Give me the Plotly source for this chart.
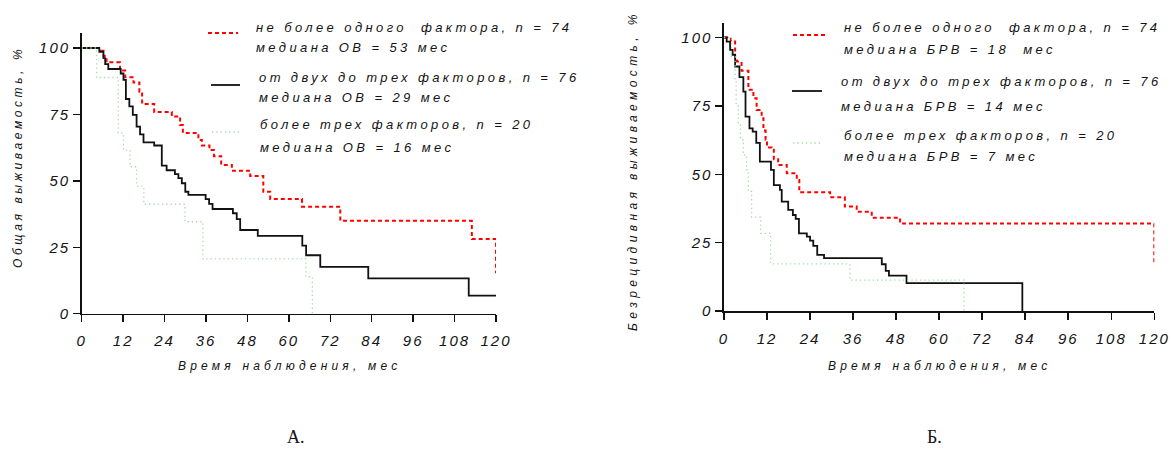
import plotly.graph_objects as go

# ---------------- DATA ----------------
# Panel A: overall survival (ОВ)
os_t_low = [0, 5.3, 6.3, 7.2, 11.1, 12.6, 15.0, 16.7, 17.5, 21.0, 26.1, 28.5, 29.3, 33.8, 34.8, 37.0, 38.3, 40.4,
            43.5, 48.8, 52.6, 54.6, 63.8, 74.9, 113.0, 120]
os_s_low = [100, 99, 97, 94.6, 91.5, 89, 87, 83.5, 78.9, 75.9, 74.2, 71, 68, 65.4, 63.3, 61.6, 59.3, 56,
            53.8, 51.8, 45.9, 43.2, 40.3, 35.0, 28.1, 15.2]

os_t_mid = [0, 5.1, 6.3, 6.8, 7.7, 11.3, 12.1, 12.8, 13.8, 14.8, 15.9, 16.9, 17.9, 21.0, 23.2, 24.6, 27.0, 28.0,
            29.0, 30.0, 30.9, 35.9, 36.9, 37.9, 43.8, 44.9, 45.9, 51.0, 63.9, 65.0, 69.1, 83.0, 112.1, 120]
os_s_mid = [100, 98.6, 96.2, 93.9, 92.1, 90.4, 88, 80.8, 78, 74.8, 70.4, 67.5, 64.5, 63.3, 55.7, 54.0, 52.5, 51,
            49.1, 45.9, 44.7, 43.1, 41.3, 39.4, 37.8, 35.6, 31.5, 29.3, 25.6, 22.0, 17.6, 13.3, 6.8, 6.8]

os_t_high = [0, 4.3, 10.6, 12.1, 14.0, 15.9, 18.0, 29.9, 35.1, 64.9, 66.8]
os_s_high = [100, 88.9, 68.0, 61.6, 55.3, 48.0, 41.2, 34.6, 20.6, 13.9, 0]

# Panel B: disease-free survival (БРВ)
dfs_t_low = [0, 1.9, 3.1, 3.6, 4.9, 6.8, 8.2, 9.1, 10.5, 11.0, 11.6, 12.0, 13.3, 13.9, 15.1, 17.5, 20.3, 21.0,
             29.6, 33.7, 37.0, 41.2, 49.1, 120]
dfs_s_low = [100, 98.5, 92.5, 91.2, 87.8, 80.9, 77.8, 73.5, 70.5, 66.0, 62.6, 59.8, 59.0, 55.5, 53.4, 50.4, 47.9, 43.4,
             41.6, 38.2, 36.3, 34.1, 32.0, 17.5]

dfs_t_mid = [0, 0.75, 1.7, 2.4, 3.1, 4.3, 5.4, 6.0, 7.1, 8.0, 9.0, 10.0, 13.1, 13.9, 15.6, 16.1, 17.9, 19.2, 20.0,
             20.9, 23.1, 24.0, 24.9, 26.0, 27.9, 44.0, 45.1, 46.0, 50.9, 83.2]
dfs_s_mid = [100, 98.5, 95.5, 93.7, 89.4, 85.5, 80.2, 71.1, 66.8, 65.6, 61.5, 54.6, 51.6, 46.0, 44.3, 40.0, 37.0, 35.1,
             33.7, 28.4, 27.2, 25.7, 23.8, 20.5, 19.3, 17.1, 14.7, 12.9, 10.2, 0]

dfs_t_high = [0, 2.1, 3.1, 3.4, 4.0, 4.6, 5.4, 6.3, 6.8, 7.7, 10.2, 13.0, 35.1, 66.9]
dfs_s_high = [100, 93, 84.5, 75, 68, 62.6, 57, 51.6, 43.7, 34.3, 28.4, 17.2, 11.3, 0]

x_ticks = [0, 12, 24, 36, 48, 60, 72, 84, 96, 108, 120]
y_ticks = [0, 25, 50, 75, 100]

legend_A = [["не более одного\u00a0 фактора, n = 74", "медиана ОВ = 53 мес"],
            ["от двух до трех факторов, n = 76", "медиана ОВ = 29 мес"],
            ["более трех факторов, n = 20", "медиана ОВ = 16 мес"]]
legend_B = [["не более одного\u00a0 фактора, n = 74", "медиана БРВ = 18\u00a0 мес"],
            ["от двух до трех факторов, n = 76", "медиана БРВ = 14 мес"],
            ["более трех факторов, n = 20", "медиана БРВ = 7 мес"]]

# ---------------- STYLE ----------------
W, H = 1172, 457
FONT = "Liberation Sans"
TXT = "#141414"
RED = dict(color="#ff0000", width=2, dash="4px,3px")
BLACK = dict(color="#111111", width=1.8)
GREEN = dict(color="#a6dba6", width=1.3, dash="1.3px,3px")


def px_x(px):
    return px / W


def px_y(py):
    return 1 - py / H


def sp(text, ls):
    return f"<span style='letter-spacing:{ls}px'>{text}</span>"


fig = go.Figure()

for xa, ya, t, s, ln in [
    ("x", "y", os_t_low, os_s_low, RED),
    ("x", "y", os_t_mid, os_s_mid, BLACK),
    ("x", "y", os_t_high, os_s_high, GREEN),
    ("x2", "y2", dfs_t_low, dfs_s_low, RED),
    ("x2", "y2", dfs_t_mid, dfs_s_mid, BLACK),
    ("x2", "y2", dfs_t_high, dfs_s_high, GREEN),
]:
    fig.add_trace(go.Scatter(x=t, y=s, mode="lines", line=dict(shape="hv", **ln),
                             xaxis=xa, yaxis=ya, cliponaxis=False, hoverinfo="skip"))

axis_common = dict(showgrid=False, zeroline=False, showline=True, linecolor="#111111", linewidth=1.6,
                   ticks="outside", tickcolor="#111111", tickwidth=1.5, automargin=False,
                   tickfont=dict(family=FONT, size=15, color=TXT, style="italic"))

xt = ["<i>" + sp(str(v), 2) + "</i>" for v in x_ticks]
yt = ["<i>" + sp(str(v), 2) + "</i>" for v in y_ticks]

fig.update_layout(
    width=W, height=H, margin=dict(l=0, r=0, t=0, b=0, autoexpand=False),
    paper_bgcolor="white", plot_bgcolor="white", showlegend=False,
    xaxis=dict(domain=[px_x(81.7), px_x(496)], range=[0, 120], tickvals=x_ticks, ticktext=xt,
               ticklen=7, anchor="y", ticklabelstandoff=6, **axis_common),
    yaxis=dict(domain=[px_y(313.7), px_y(33.4)], range=[0, 105.5], tickvals=y_ticks, ticktext=yt,
               ticklen=7, anchor="x", **axis_common),
    xaxis2=dict(domain=[px_x(724), px_x(1154.3)], range=[0, 120], tickvals=x_ticks, ticktext=xt,
                ticklen=7, anchor="y2", ticklabelstandoff=6, **axis_common),
    yaxis2=dict(domain=[px_y(311), px_y(23)], range=[0, 105.3], tickvals=y_ticks, ticktext=yt,
                ticklen=7, anchor="x2", **axis_common),
)

ann = []


def add_text(text, x, y, size=13, ls=3.4, angle=0, xanchor="left", family=FONT, style="italic"):
    ann.append(dict(text=sp(text, ls) if ls else text, x=px_x(x), y=px_y(y), xref="paper", yref="paper",
                    showarrow=False, xanchor=xanchor, yanchor="middle", textangle=angle,
                    font=dict(family=family, size=size, color=TXT, style=style)))


# Legend
styles = [RED, BLACK, GREEN]
legA_line_y = [33, 85, 132]
legA_line_x = [(208, 238), (211, 240), (212, 240)]
legA_text = [(254, 27, 48), (257, 77, 98), (258, 124, 147)]
legB_line_y = [35, 91, 143]
legB_line_x = [(793, 825), (792, 822), (793, 822)]
legB_text = [(842, 27, 49), (839, 82, 106), (842, 135, 157)]

shapes = []
for lines, ly, lx, lt in [(legend_A, legA_line_y, legA_line_x, legA_text),
                          (legend_B, legB_line_y, legB_line_x, legB_text)]:
    for i in range(3):
        shapes.append(dict(type="line", xref="paper", yref="paper", x0=px_x(lx[i][0]), x1=px_x(lx[i][1]),
                           y0=px_y(ly[i]), y1=px_y(ly[i]), line=styles[i]))
        add_text(lines[i][0], lt[i][0], lt[i][1])
        add_text(lines[i][1], lt[i][0], lt[i][2])

# Axis titles
add_text("Время наблюдения, мес", 289, 366, size=12, ls=4.2, xanchor="center")
add_text("Время наблюдения, мес", 939, 366, size=12, ls=4.2, xanchor="center")
add_text("Общая выживаемость, %", 18, 157, size=12, ls=3.6, angle=-90, xanchor="center")
add_text("Безрецидивная выживаемость, %", 633, 171, size=12, ls=4.4, angle=-90, xanchor="center")

# Panel labels
add_text("А.", 296, 437, size=18, ls=0, xanchor="center", family="Liberation Serif", style="normal")
add_text("Б.", 934, 437, size=18, ls=0, xanchor="center", family="Liberation Serif", style="normal")

fig.update_layout(annotations=ann, shapes=shapes)
fig.write_html("out.html", config={"displayModeBar": False, "staticPlot": True},
               post_script="document.body.style.margin='0px';document.body.style.overflow='hidden';")
